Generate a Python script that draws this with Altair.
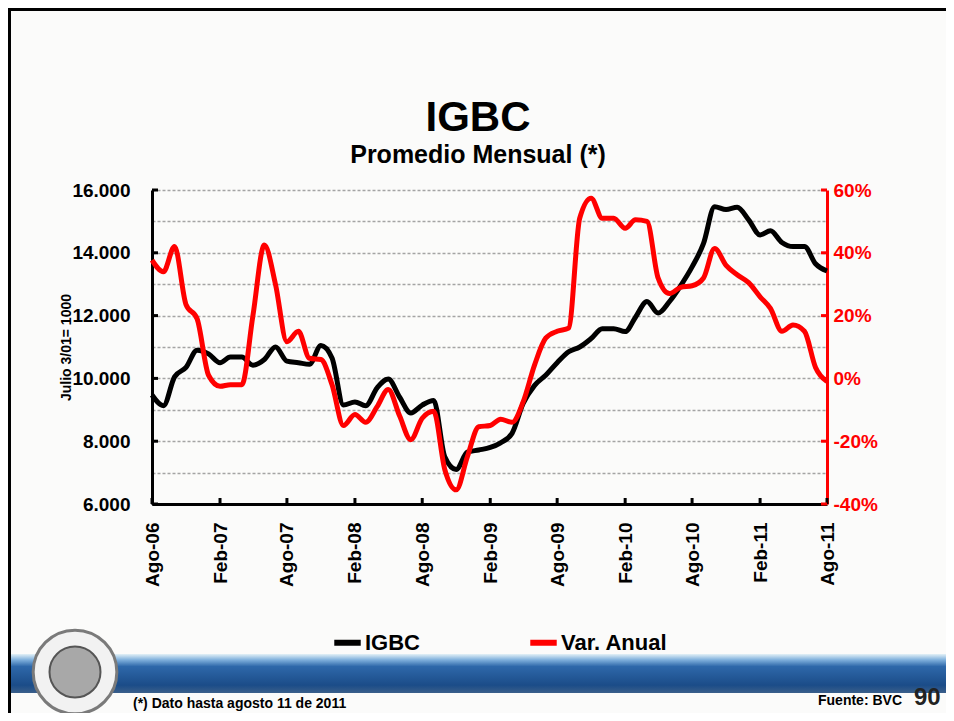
import json
import altair as alt
import pandas as pd

# ---------------- data ----------------
MESES = pd.date_range("2006-08-01", periods=61, freq="MS")

IGBC = [
    9470, 9130, 10050, 10350, 10900, 10780, 10500, 10680, 10680, 10420,
    10600, 11000, 10550, 10500, 10450, 11050, 10650, 9150, 9250, 9130,
    9700, 9980, 9400, 8900, 9150, 9300, 7500, 7100, 7650, 7720,
    7800, 7950, 8250, 9200, 9780, 10100, 10500, 10850, 11000, 11270,
    11580, 11580, 11490, 11950, 12450, 12080, 12450, 12950, 13550, 14300,
    15470, 15380, 15450, 15050, 14570, 14700, 14330, 14200, 14200, 13650,
    13420,
]

VAR_ANUAL = [
    37.7, 34.0, 42.0, 23.5, 19.0, 1.0, -2.5, -2.0, -2.0, 20.0,
    42.5, 30.0, 11.7, 15.0, 6.4, 6.0, -2.0, -15.0, -11.5, -14.0,
    -9.0, -3.5, -12.0, -19.5, -12.7, -10.5, -29.0, -35.5, -25.0, -15.4,
    -15.0, -13.0, -14.0, -7.5, 4.3, 12.8, 15.0, 16.0, 51.0, 57.4,
    51.0, 51.0, 47.8, 50.5, 50.0, 32.0, 27.0, 29.0, 29.5, 32.0,
    41.4, 36.0, 33.0, 30.5, 26.0, 22.3, 15.0, 17.0, 15.0, 3.5,
    -1.0,
]

SERIES = ["IGBC", "Var. Anual"]
COLORS = ["#000000", "#ff0000"]
TICK_LABELS = ["Ago-06", "Feb-07", "Ago-07", "Feb-08", "Ago-08", "Feb-09",
               "Ago-09", "Feb-10", "Ago-10", "Feb-11", "Ago-11"]
LEFT_TICKS = [6000, 8000, 10000, 12000, 14000, 16000]
LEFT_GRID = list(range(6000, 16001, 1000))
RIGHT_TICKS = [-40, -20, 0, 20, 40, 60]
X_TICK_DATES = MESES[::6]

TITLE = "IGBC"
SUBTITLE = "Promedio Mensual (*)"
Y_TITLE = "Julio 3/01= 1000"
NOTE = "(*) Dato hasta agosto 11 de 2011"
SOURCE = "Fuente: BVC"
PAGE = "90"

# ---------------- layout ----------------
W, H = 675, 314
PAD = {"left": 144, "top": 182, "right": 119, "bottom": 209}
FONT = "Liberation Sans"

df_igbc = pd.DataFrame({"fecha": MESES, "valor": IGBC, "serie": SERIES[0]})
df_var = pd.DataFrame({"fecha": MESES, "valor": VAR_ANUAL, "serie": SERIES[1]})
one = pd.DataFrame({"k": [0]})

x_domain = [alt.DateTime(year=2006, month=8, date=1),
            alt.DateTime(year=2011, month=8, date=1)]
x_values = [alt.DateTime(year=int(d.year), month=int(d.month), date=1) for d in X_TICK_DATES]
x_label_expr = (json.dumps(TICK_LABELS)
                + "[round(((year(datum.value)-2006)*12 + month(datum.value) - 7)/6)]")

x_axis = alt.Axis(
    values=x_values, labelExpr=x_label_expr, labelAngle=270,
    labelFont=FONT, labelFontWeight="bold", labelFontSize=19,
    labelColor="black", labelPadding=18, labelFlush=False,
    labelOverlap=False, ticks=False, tickSize=0,
    domainColor="black", domainWidth=3, grid=False, title=None,
)
x_scale = alt.Scale(domain=x_domain)

color_enc = alt.Color(
    "serie:N",
    scale=alt.Scale(domain=SERIES, range=COLORS),
    legend=alt.Legend(
        orient="none", legendX=179, legendY=436, direction="horizontal",
        title=None, symbolType="stroke", symbolStrokeWidth=6, symbolSize=700,
        labelFont=FONT, labelFontSize=22, labelFontWeight="bold",
        labelColor="black", columnPadding=98, labelOffset=1,
    ),
)

left_scale = alt.Scale(domain=[6000, 16000], nice=False, zero=False)
right_scale = alt.Scale(domain=[-40, 60], nice=False, zero=False)

left_axis = alt.Axis(
    values=LEFT_GRID,
    labelExpr="datum.value % 2000 == 0 ? replace(format(datum.value, ',.0f'), ',', '.') : ''",
    grid=True, gridColor="#a4a4a4", gridDash=[3, 2], gridWidth=1.5,
    ticks=False, tickSize=0, domainColor="black", domainWidth=3,
    labelFont=FONT, labelFontSize=19, labelFontWeight="bold",
    labelColor="black", labelPadding=22,
    title=Y_TITLE, titleFont=FONT, titleFontSize=14,
    titleFontWeight="bold", titleColor="black", titleAngle=270,
    titleX=-79, titleY=H / 2, titleAlign="center", titleBaseline="bottom",
)

right_axis = alt.Axis(
    orient="right", values=RIGHT_TICKS, labelExpr="datum.value + '%'",
    grid=False, ticks=False, tickSize=0, domainColor="#ff0000",
    domainWidth=3, labelFont=FONT, labelFontSize=19,
    labelFontWeight="bold", labelColor="#ff0000", labelPadding=6,
    title=None,
)

igbc_line = alt.Chart(df_igbc).mark_line(
    strokeWidth=5, interpolate="monotone"
).encode(
    x=alt.X("fecha:T", scale=x_scale, axis=x_axis),
    y=alt.Y("valor:Q", scale=left_scale, axis=left_axis),
    color=color_enc,
)

var_line = alt.Chart(df_var).mark_line(
    strokeWidth=5, interpolate="monotone"
).encode(
    x=alt.X("fecha:T", scale=x_scale, axis=x_axis),
    y=alt.Y("valor:Q", scale=right_scale, axis=right_axis),
    color=color_enc,
)

# inward tick marks (the axes' own ticks only point outward)
left_ticks = alt.Chart(pd.DataFrame({"v": LEFT_TICKS})).mark_rule(
    color="black", strokeWidth=3
).encode(
    y=alt.Y("v:Q", scale=left_scale, axis=None),
    x=alt.value(0), x2=alt.value(6),
)
right_ticks = alt.Chart(pd.DataFrame({"v": RIGHT_TICKS})).mark_rule(
    color="#ff0000", strokeWidth=3
).encode(
    y=alt.Y("v:Q", scale=right_scale, axis=None),
    x=alt.value(W - 6), x2=alt.value(W),
)
x_ticks = alt.Chart(pd.DataFrame({"fecha": X_TICK_DATES})).mark_rule(
    color="black", strokeWidth=3
).encode(
    x=alt.X("fecha:T", scale=x_scale, axis=x_axis),
    y=alt.value(H), y2=alt.value(H - 6),
)

# ---------------- slide decoration & texts ----------------
band = alt.Chart(one).mark_rect(
    color=alt.Gradient(
        gradient="linear", x1=0, x2=0, y1=0, y2=1,
        stops=[
            alt.GradientStop(offset=0, color="#e3f1f7"),
            alt.GradientStop(offset=0.15, color="#7fb0dc"),
            alt.GradientStop(offset=0.32, color="#2e68aa"),
            alt.GradientStop(offset=0.8, color="#1b4c88"),
            alt.GradientStop(offset=1, color="#3a5f8a"),
        ],
    )
).encode(x=alt.value(-144), x2=alt.value(794), y=alt.value(464), y2=alt.value(503))

logo_outer = alt.Chart(one).mark_point(
    shape="circle", filled=True, fill="#f2f2f2", stroke="#7a7a7a", strokeWidth=3,
    size=7000, opacity=1
).encode(x=alt.value(-77), y=alt.value(482))

logo_inner = alt.Chart(one).mark_point(
    shape="circle", filled=True, fill="#a8a8a8", stroke="#555555", strokeWidth=2,
    size=2600, opacity=1
).encode(x=alt.value(-77), y=alt.value(482))

border_left = alt.Chart(one).mark_rule(color="black", strokeWidth=3).encode(
    x=alt.value(-142.5), y=alt.value(-182), y2=alt.value(523)
)
border_top = alt.Chart(one).mark_rule(color="black", strokeWidth=3).encode(
    y=alt.value(-180.5), x=alt.value(-144), x2=alt.value(794)
)


def label(text, x, y, size, align="center", color="black"):
    return alt.Chart(one).mark_text(
        align=align, baseline="alphabetic", font=FONT, fontSize=size,
        fontWeight="bold", color=color
    ).encode(x=alt.value(x), y=alt.value(y), text=alt.value(text))


title_t = label(TITLE, 326, -59, 42)
subtitle_t = label(SUBTITLE, 326, -27, 25)
note = label(NOTE, -19, 518, 14, align="left")
source = label(SOURCE, 666, 515, 14, align="left")
page = label(PAGE, 762, 515, 24, align="left", color="#222222")

chart = alt.layer(
    band, logo_outer, logo_inner, border_left, border_top,
    x_ticks, left_ticks, right_ticks, igbc_line, var_line,
    title_t, subtitle_t, note, source, page,
).resolve_scale(
    y="independent"
).properties(
    width=W, height=H,
    padding=PAD,
    autosize=alt.AutoSizeParams(type="none"),
).configure(
    background="#fbfbfa"
).configure_view(
    stroke=None
)

chart.save("out.html", embed_options={"renderer": "svg", "actions": False})
